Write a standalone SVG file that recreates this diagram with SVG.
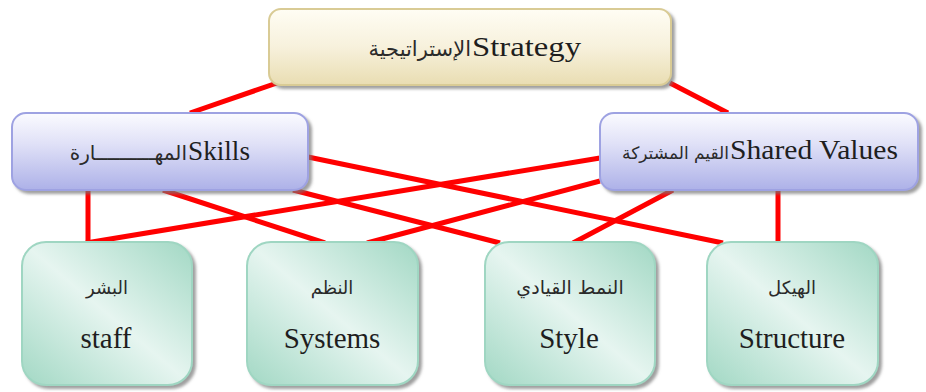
<svg xmlns="http://www.w3.org/2000/svg" width="926" height="392" viewBox="0 0 926 392">
<style>
.en{font-family:"Liberation Serif","Times New Roman",serif;fill:#1e1e1e}
.ar{font-family:"DejaVu Sans","Noto Sans",sans-serif;fill:#2a2a2a}
.con line{stroke:#ff0000;stroke-width:5;stroke-linecap:butt}
.strat{fill:url(#gStrat);stroke:#d9cb95;stroke-width:2}
.mid{fill:url(#gMid);stroke:#9ea2e2;stroke-width:2}
.bot{fill:url(#gBot);stroke:#9fd6c2;stroke-width:2}
</style>
<defs>
<linearGradient id="gStrat" x1="0" y1="0" x2="0" y2="1">
<stop offset="0" stop-color="#fffdf4"/><stop offset="0.5" stop-color="#f7f1dc"/><stop offset="1" stop-color="#e9ddb2"/>
</linearGradient>
<linearGradient id="gMid" x1="0" y1="0" x2="0" y2="1">
<stop offset="0" stop-color="#fbfbff"/><stop offset="0.4" stop-color="#e0e1f7"/><stop offset="1" stop-color="#adb1e8"/>
</linearGradient>
<linearGradient id="gBot" x1="1" y1="0" x2="0" y2="1">
<stop offset="0" stop-color="#a2d8c4"/><stop offset="0.5" stop-color="#e6f5f0"/><stop offset="1" stop-color="#a2d8c4"/>
</linearGradient>
<filter id="sh" x="-10%" y="-10%" width="125%" height="130%">
<feDropShadow dx="3" dy="3" stdDeviation="1.5" flood-color="#777" flood-opacity="0.7"/>
</filter>
</defs>
<rect width="926" height="392" fill="#ffffff"/>
<g id="connectors" class="con">
<line x1="277" y1="83" x2="190" y2="113"/>
<line x1="670" y1="83" x2="728" y2="113"/>
<line x1="88" y1="190" x2="88" y2="243"/>
<line x1="86" y1="243" x2="600" y2="158"/>
<line x1="163" y1="190" x2="325" y2="243"/>
<line x1="367" y1="243" x2="600" y2="181"/>
<line x1="308" y1="157" x2="723" y2="243"/>
<line x1="293" y1="190" x2="500" y2="243"/>
<line x1="673" y1="190" x2="573" y2="243"/>
<line x1="778" y1="190" x2="778" y2="243"/>
</g>
<g id="strategy">
<rect class="strat" x="269" y="9" width="402" height="76" rx="12" filter="url(#sh)"/>
<text class="ar" x="471" y="56" font-size="21" text-anchor="end">الإستراتيجية</text>
<text class="en" x="472" y="56" font-size="28" textLength="109" lengthAdjust="spacingAndGlyphs">Strategy</text>
</g>
<g id="skills">
<rect class="mid" x="12" y="113" width="296" height="77" rx="14" filter="url(#sh)"/>
<text class="ar" x="187" y="160" font-size="20" text-anchor="end">المهــــــــــارة</text>
<text class="en" x="188" y="160" font-size="28" textLength="62" lengthAdjust="spacingAndGlyphs">Skills</text>
</g>
<g id="shared-values">
<rect class="mid" x="600" y="113" width="318" height="77" rx="14" filter="url(#sh)"/>
<text class="ar" x="729" y="159" font-size="17" text-anchor="end">القيم المشتركة</text>
<text class="en" x="730" y="159" font-size="28" textLength="168" lengthAdjust="spacingAndGlyphs">Shared Values</text>
</g>
<g id="staff">
<rect class="bot" x="22" y="242" width="170" height="143" rx="24" filter="url(#sh)"/>
<text class="ar" x="107" y="294" font-size="18" text-anchor="middle">البشر</text>
<text class="en" x="106" y="348" font-size="29" text-anchor="middle">staff</text>
</g>
<g id="systems">
<rect class="bot" x="247" y="242" width="171" height="143" rx="24" filter="url(#sh)"/>
<text class="ar" x="332" y="294" font-size="18" text-anchor="middle">النظم</text>
<text class="en" x="332" y="348" font-size="29" text-anchor="middle">Systems</text>
</g>
<g id="style">
<rect class="bot" x="485" y="242" width="170" height="143" rx="24" filter="url(#sh)"/>
<text class="ar" x="570" y="294" font-size="19" text-anchor="middle">النمط القيادي</text>
<text class="en" x="569" y="348" font-size="29" text-anchor="middle">Style</text>
</g>
<g id="structure">
<rect class="bot" x="707" y="242" width="171" height="143" rx="24" filter="url(#sh)"/>
<text class="ar" x="792" y="294" font-size="18" text-anchor="middle">الهيكل</text>
<text class="en" x="792" y="348" font-size="29" text-anchor="middle">Structure</text>
</g>
</svg>
